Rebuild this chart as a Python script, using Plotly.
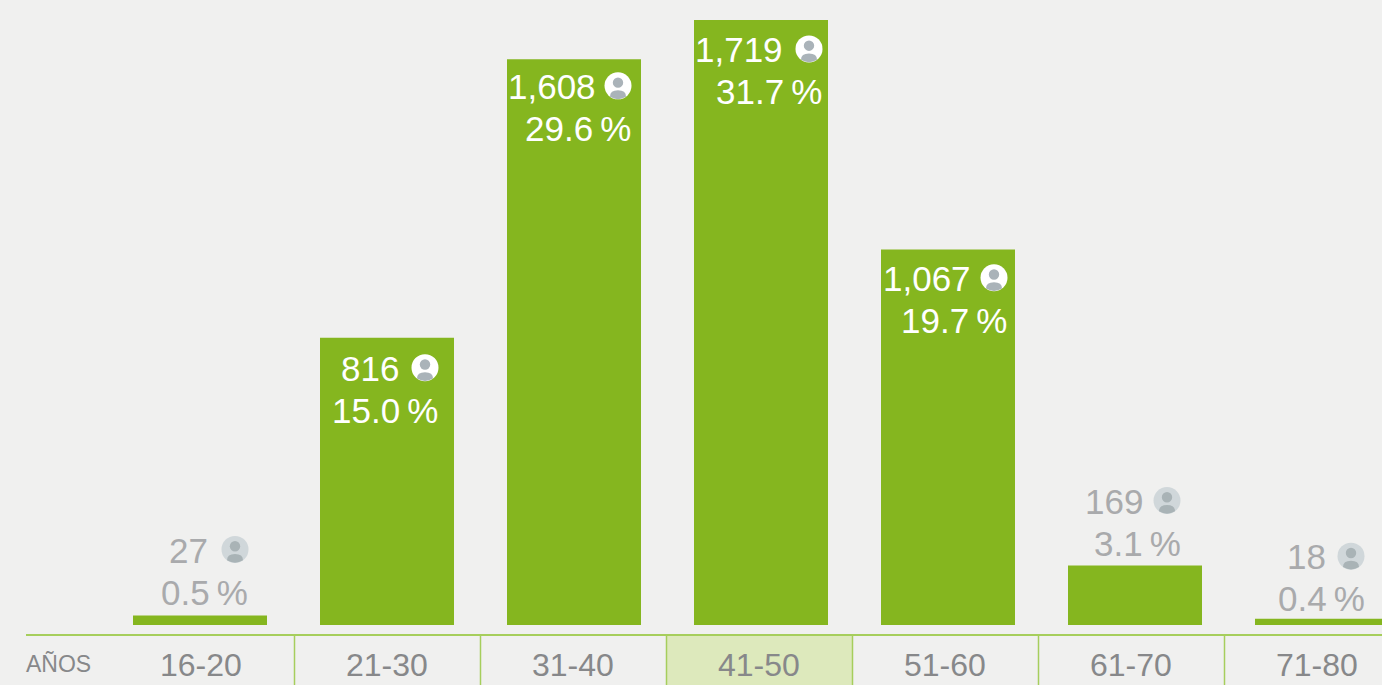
import plotly.graph_objects as go

# ---- data ----
categories = ["16-20", "21-30", "31-40", "41-50", "51-60", "61-70", "71-80"]
counts = [27, 816, 1608, 1719, 1067, 169, 18]
count_labels = ["27", "816", "1,608", "1,719", "1,067", "169", "18"]
percents = ["0.5", "15.0", "29.6", "31.7", "19.7", "3.1", "0.4"]
axis_title = "AÑOS"
highlighted = "41-50"

# ---- layout / style ----
W, H = 1382, 685
BG = "#f0f0ef"
GREEN = "#85b61f"
LINE = "#a6ce5c"
PX_PER_X = 187.0
X0_PX = 200.0
PX_PER_Y = 0.3519
BASE_PX = 625.0
BAR_W = 134 / PX_PER_X
FONT = "Liberation Sans, Arial, sans-serif"
NUM_SIZE = 35
# label block offsets (px from bar centre / bar top), per bar
pct_right = [50, 53, 59, 63, 61, 48, 45]
num_right = [10, 14, 24, 24, 25, 10, 6]
icon_cx = [35, 38, 44, 48, 46, 32, 29]
num_drop = [-65.3, 30.6, 27.5, 29.6, 29.0, -64.3, -61.7]


def py(p):
    return 1 - p / H


def px(p):
    return p / W


fig = go.Figure(
    go.Bar(
        x=list(range(len(categories))),
        y=counts,
        width=BAR_W,
        marker=dict(color=GREEN, line=dict(width=0)),
        hoverinfo="skip",
    )
)

shapes = []
annotations = []

# lower table: highlighted cell, rule, separators
CELL_L, CELL_W, RULE_Y = 108.5, 186.0, 635.0
for i, c in enumerate(categories):
    if c == highlighted:
        shapes.append(dict(type="rect", xref="paper", yref="paper",
                           x0=px(CELL_L + CELL_W * i), x1=px(CELL_L + CELL_W * (i + 1)),
                           y0=py(RULE_Y), y1=py(H), fillcolor="#dde9bc", line_width=0, layer="below"))
    annotations.append(dict(text=c, xref="paper", yref="paper",
                            x=px(108 + CELL_W * (i + 0.5)), y=py(664.5),
                            xanchor="center", yanchor="middle", showarrow=False,
                            font=dict(family=FONT, size=32, color="#87888a")))
    if i < len(categories) - 1:
        xs = px(CELL_L + CELL_W * (i + 1))
        shapes.append(dict(type="line", xref="paper", yref="paper", x0=xs, x1=xs,
                           y0=py(RULE_Y), y1=py(H), line=dict(color=LINE, width=1.5)))
shapes.append(dict(type="line", xref="paper", yref="paper", x0=px(26), x1=1,
                   y0=py(RULE_Y), y1=py(RULE_Y), line=dict(color=LINE, width=2)))
annotations.append(dict(text=axis_title, xref="paper", yref="paper", x=px(24), y=py(664),
                        xanchor="left", yanchor="middle", showarrow=False,
                        font=dict(family=FONT, size=23, color="#87888a")))

# value labels and person icons
for i, v in enumerate(counts):
    inside = v > 300
    text_col = "#ffffff" if inside else "#a9aaac"
    num_dy = -num_drop[i]
    pct_dy = num_dy - 42
    annotations.append(dict(text=count_labels[i], x=i, y=v, xref="x", yref="y",
                            xshift=num_right[i], yshift=num_dy, xanchor="right", yanchor="middle",
                            showarrow=False, font=dict(family=FONT, size=NUM_SIZE, color=text_col)))
    annotations.append(dict(text=percents[i] + "\u2009%", x=i, y=v, xref="x", yref="y",
                            xshift=pct_right[i], yshift=pct_dy, xanchor="right", yanchor="middle",
                            showarrow=False, font=dict(family=FONT, size=NUM_SIZE, color=text_col)))
    disc = "#ffffff" if inside else "#d0d7da"
    person = "#aab3b9" if inside else "#a9b3b6"
    cx = icon_cx[i]
    cy = num_dy + 0.8
    pixel = dict(xref="x", yref="y", xsizemode="pixel", ysizemode="pixel", xanchor=i, yanchor=v)
    shapes.append(dict(type="circle", x0=cx - 13.5, x1=cx + 13.5, y0=cy - 13.5, y1=cy + 13.5,
                       fillcolor=disc, line_width=0, **pixel))
    shapes.append(dict(type="circle", x0=cx - 5.2, x1=cx + 5.2, y0=cy - 2, y1=cy + 8.4,
                       fillcolor=person, line_width=0, **pixel))
    shapes.append(dict(type="path",
                       path=(f"M {cx-8} {cy-10.9} Q {cx-8} {cy-4.5} {cx} {cy-4.5} "
                             f"Q {cx+8} {cy-4.5} {cx+8} {cy-10.9} Q {cx} {cy-15.8} {cx-8} {cy-10.9} Z"),
                       fillcolor=person, line_width=0, **pixel))

fig.update_layout(
    width=W, height=H, autosize=False,
    margin=dict(l=0, r=0, t=0, b=0, pad=0),
    paper_bgcolor=BG, plot_bgcolor=BG,
    showlegend=False,
    xaxis=dict(range=[-X0_PX / PX_PER_X, (W - X0_PX) / PX_PER_X], visible=False, fixedrange=True),
    yaxis=dict(range=[-(H - BASE_PX) / PX_PER_Y, BASE_PX / PX_PER_Y], visible=False, fixedrange=True),
    shapes=shapes, annotations=annotations,
)
fig.write_html("out.html", config={"displayModeBar": False},
               post_script="document.body.style.margin='0';document.body.style.overflow='hidden';document.body.style.background='%s';" % BG)
